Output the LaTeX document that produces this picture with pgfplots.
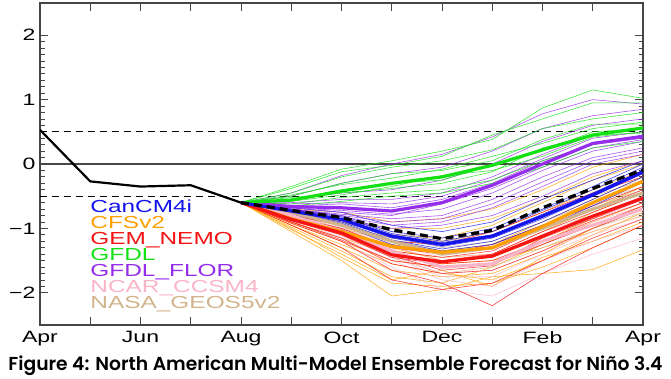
\documentclass[border=0pt]{standalone}
\usepackage{pgfplots}
\usepackage{pgfplotstable}
\usepackage{graphicx}
\usepackage{fontspec}
\pgfplotsset{compat=1.18}
\setmainfont{Liberation Sans}
\newfontfamily\widefont{Liberation Sans}[FakeStretch=1.4]
\newfontfamily\capfont{Poppins}[UprightFont={* SemiBold}]

\definecolor{cblue}{RGB}{20,20,235}
\definecolor{corange}{RGB}{255,160,0}
\definecolor{cred}{RGB}{245,20,20}
\definecolor{cgreen}{RGB}{20,225,20}
\definecolor{cpurple}{RGB}{150,45,235}
\definecolor{cpink}{RGB}{250,180,200}
\definecolor{ctan}{RGB}{210,180,140}
\definecolor{axgray}{RGB}{70,70,70}

% observed
\pgfplotstableread{
x y
0 0.53
1 -0.27
2 -0.35
3 -0.33
4 -0.60
}\obs

% model means and ensemble mean
\pgfplotstableread{
x gfdl flor can cfs gem ncar nasa ens
4 -0.60 -0.60 -0.60 -0.60 -0.60 -0.60 -0.60 -0.60
5 -0.56 -0.66 -0.73 -0.85 -0.86 -0.80 -0.75 -0.72
6 -0.42 -0.68 -0.86 -1.05 -1.07 -1.05 -0.95 -0.83
7 -0.30 -0.73 -1.12 -1.28 -1.41 -1.35 -1.20 -1.02
8 -0.20 -0.60 -1.25 -1.37 -1.52 -1.60 -1.40 -1.16
9 -0.02 -0.33 -1.12 -1.30 -1.43 -1.55 -1.30 -1.03
10 0.22 0.00 -0.81 -0.97 -1.12 -1.20 -1.00 -0.68
11 0.45 0.32 -0.48 -0.60 -0.81 -0.95 -0.70 -0.38
12 0.56 0.43 -0.12 -0.27 -0.53 -0.70 -0.45 -0.09
}\means

% members: one row per member, columns Aug..Apr
\pgfplotstableread{
id a4 a5 a6 a7 a8 a9 a10 a11 a12
g1 -0.6 -0.35 -0.08 0.05 0.20 0.38 0.87 1.15 1.02
g2 -0.6 -0.38 -0.12 -0.02 0.12 0.45 0.70 0.95 0.95
g3 -0.6 -0.45 -0.20 -0.05 0.05 0.22 0.55 0.70 0.80
g4 -0.6 -0.50 -0.30 -0.15 -0.10 0.05 0.38 0.62 0.62
g5 -0.6 -0.55 -0.40 -0.30 -0.25 -0.02 0.20 0.50 0.55
g6 -0.6 -0.62 -0.52 -0.45 -0.40 -0.25 0.05 0.30 0.45
g7 -0.6 -0.58 -0.48 -0.35 -0.18 -0.10 0.12 0.42 0.50
g8 -0.6 -0.52 -0.45 -0.38 -0.30 -0.12 0.25 0.45 0.48
g9 -0.6 -0.65 -0.58 -0.50 -0.45 -0.30 -0.05 0.25 0.35
g10 -0.6 -0.48 -0.32 -0.22 -0.08 0.12 0.32 0.55 0.65
}\rawG
\pgfplotstabletranspose[colnames from=id]{\tabG}{\rawG}

\pgfplotstableread{
id a4 a5 a6 a7 a8 a9 a10 a11 a12
p1 -0.6 -0.45 -0.18 0.00 0.15 0.42 0.78 1.00 0.93
p2 -0.6 -0.50 -0.30 -0.15 -0.05 0.20 0.55 0.75 0.85
p3 -0.6 -0.55 -0.45 -0.40 -0.25 0.00 0.35 0.60 0.70
p4 -0.6 -0.60 -0.55 -0.55 -0.45 -0.20 0.15 0.45 0.55
p5 -0.6 -0.65 -0.62 -0.68 -0.55 -0.30 0.05 0.30 0.40
p6 -0.6 -0.68 -0.72 -0.78 -0.70 -0.45 -0.10 0.20 0.35
p7 -0.6 -0.70 -0.78 -0.85 -0.80 -0.55 -0.20 0.10 0.25
p8 -0.6 -0.72 -0.82 -0.95 -0.90 -0.68 -0.35 0.00 0.15
p9 -0.6 -0.75 -0.88 -1.00 -0.95 -0.80 -0.50 -0.15 0.05
p10 -0.6 -0.68 -0.75 -0.80 -0.62 -0.38 -0.05 0.25 0.38
p11 -0.6 -0.62 -0.60 -0.62 -0.50 -0.25 0.08 0.40 0.50
p12 -0.6 -0.70 -0.80 -0.90 -0.85 -0.62 -0.28 0.05 0.20
}\rawP
\pgfplotstabletranspose[colnames from=id]{\tabP}{\rawP}

\pgfplotstableread{
id a4 a5 a6 a7 a8 a9 a10 a11 a12
b1 -0.6 -0.68 -0.75 -0.95 -1.05 -0.90 -0.55 -0.25 0.05
b2 -0.6 -0.70 -0.80 -1.05 -1.15 -1.00 -0.70 -0.35 0.00
b3 -0.6 -0.75 -0.90 -1.18 -1.32 -1.20 -0.90 -0.55 -0.20
b4 -0.6 -0.78 -0.95 -1.25 -1.40 -1.30 -1.00 -0.65 -0.28
b5 -0.6 -0.72 -0.85 -1.10 -1.22 -1.10 -0.78 -0.45 -0.10
b6 -0.6 -0.76 -0.92 -1.20 -1.35 -1.25 -0.95 -0.62 -0.25
b7 -0.6 -0.70 -0.82 -1.08 -1.20 -1.05 -0.72 -0.40 -0.05
b8 -0.6 -0.74 -0.88 -1.15 -1.28 -1.15 -0.85 -0.50 -0.15
}\rawB
\pgfplotstabletranspose[colnames from=id]{\tabB}{\rawB}

\pgfplotstableread{
id a4 a5 a6 a7 a8 a9 a10 a11 a12
o1 -0.6 -0.70 -0.75 -0.90 -0.85 -0.70 -0.40 -0.05 0.15
o2 -0.6 -0.75 -0.85 -1.00 -1.00 -0.85 -0.55 -0.20 0.05
o3 -0.6 -0.80 -0.95 -1.15 -1.20 -1.05 -0.75 -0.40 -0.10
o4 -0.6 -0.85 -1.05 -1.25 -1.35 -1.25 -0.90 -0.55 -0.20
o5 -0.6 -0.88 -1.10 -1.35 -1.45 -1.40 -1.05 -0.70 -0.35
o6 -0.6 -0.92 -1.20 -1.50 -1.60 -1.55 -1.20 -0.85 -0.50
o7 -0.6 -0.95 -1.30 -1.65 -1.75 -1.70 -1.40 -1.00 -0.65
o8 -0.6 -1.00 -1.45 -1.85 -1.90 -1.85 -1.60 -1.30 -0.95
o9 -0.6 -1.05 -1.50 -2.05 -1.95 -1.75 -1.70 -1.64 -1.33
o10 -0.6 -0.90 -1.15 -1.40 -1.55 -1.50 -1.30 -1.05 -0.80
o11 -0.6 -0.82 -1.00 -1.20 -1.25 -1.10 -0.80 -0.45 -0.15
o12 -0.6 -0.95 -1.25 -1.55 -1.70 -1.80 -1.50 -1.10 -0.75
o13 -0.6 -0.78 -0.90 -1.10 -1.15 -0.95 -0.60 -0.25 0.00
o14 -0.6 -0.98 -1.35 -1.75 -1.85 -1.60 -1.25 -0.90 -0.60
o15 -0.6 -0.86 -1.08 -1.30 -1.50 -1.45 -1.15 -0.75 -0.45
o16 -0.6 -1.02 -1.40 -1.80 -1.65 -1.90 -1.45 -1.20 -0.90
}\rawO
\pgfplotstabletranspose[colnames from=id]{\tabO}{\rawO}

\pgfplotstableread{
id a4 a5 a6 a7 a8 a9 a10 a11 a12
r1 -0.6 -0.80 -0.95 -1.20 -1.25 -1.05 -0.75 -0.45 -0.20
r2 -0.6 -0.82 -1.00 -1.30 -1.40 -1.25 -0.95 -0.65 -0.35
r3 -0.6 -0.88 -1.10 -1.45 -1.55 -1.50 -1.20 -0.88 -0.60
r4 -0.6 -0.90 -1.15 -1.55 -1.70 -1.65 -1.35 -1.00 -0.70
r5 -0.6 -0.92 -1.20 -1.65 -1.85 -2.20 -1.70 -1.30 -0.95
r6 -0.6 -0.85 -1.05 -1.40 -1.50 -1.40 -1.05 -0.75 -0.45
r7 -0.6 -0.95 -1.30 -1.80 -1.95 -1.85 -1.50 -1.15 -0.85
r8 -0.6 -0.84 -1.02 -1.35 -1.45 -1.35 -1.00 -0.70 -0.40
r9 -0.6 -0.90 -1.18 -1.50 -1.60 -1.55 -1.25 -0.95 -0.65
r10 -0.6 -0.86 -1.08 -1.42 -1.65 -1.58 -1.15 -0.85 -0.55
}\rawR
\pgfplotstabletranspose[colnames from=id]{\tabR}{\rawR}

\pgfplotstableread{
id a4 a5 a6 a7 a8 a9 a10 a11 a12
k1 -0.6 -0.75 -0.95 -1.20 -1.40 -1.30 -0.95 -0.70 -0.45
k2 -0.6 -0.78 -1.00 -1.28 -1.50 -1.45 -1.10 -0.85 -0.60
k3 -0.6 -0.82 -1.10 -1.42 -1.70 -1.65 -1.35 -1.05 -0.80
k4 -0.6 -0.85 -1.15 -1.50 -1.80 -1.90 -1.50 -1.20 -0.95
k5 -0.6 -0.80 -1.02 -1.32 -1.62 -1.55 -1.20 -0.90 -0.65
k6 -0.6 -0.88 -1.20 -1.60 -1.95 -2.05 -1.70 -1.40 -1.15
k7 -0.6 -0.76 -0.98 -1.25 -1.45 -1.40 -1.05 -0.80 -0.50
k8 -0.6 -0.84 -1.12 -1.45 -1.75 -1.75 -1.40 -1.10 -0.85
}\rawK
\pgfplotstabletranspose[colnames from=id]{\tabK}{\rawK}

\pgfplotstableread{
id a4 a5 a6 a7 a8 a9 a10 a11 a12
t1 -0.6 -0.70 -0.85 -1.05 -1.20 -1.10 -0.80 -0.50 -0.25
t2 -0.6 -0.72 -0.90 -1.12 -1.30 -1.20 -0.90 -0.60 -0.35
t3 -0.6 -0.78 -1.00 -1.28 -1.50 -1.42 -1.10 -0.80 -0.55
t4 -0.6 -0.80 -1.05 -1.35 -1.60 -1.55 -1.25 -0.95 -0.70
t5 -0.6 -0.74 -0.92 -1.18 -1.35 -1.25 -0.95 -0.65 -0.40
t6 -0.6 -0.82 -1.10 -1.45 -1.70 -1.60 -1.30 -1.00 -0.75
}\rawT
\pgfplotstabletranspose[colnames from=id]{\tabT}{\rawT}

\begin{document}
\begin{tikzpicture}[x=1bp,y=1bp]
\useasboundingbox (0,0) rectangle (671,378);
\begin{axis}[
  at={(40bp,53bp)}, anchor=south west,
  scale only axis, width=603bp, height=322bp,
  xmin=0, xmax=12, ymin=-2.5, ymax=2.5,
  xtick={0,...,12},
  xticklabels={Apr,,Jun,,Aug,,Oct,,Dec,,Feb,,Apr},
  ytick={-2,-1,0,1,2},
  yticklabels={−2,−1,0,1,2},
  minor y tick num=9,
  tick align=inside,
  xtick pos=both, ytick pos=both,
  major tick length=8bp, minor tick length=4.5bp,
  axis line style={axgray, line width=1.1pt},
  every tick/.style={axgray, line width=1pt},
  every minor tick/.style={axgray, line width=0.8pt},
  tick label style={font=\widefont\fontsize{16.5}{18}\selectfont},
  xticklabel style={yshift=-3bp},
  yticklabel style={xshift=-1bp},
  clip=true,
  thin/.style={line width=0.6pt, opacity=0.8},
  thick mean/.style={line width=3.2pt},
]
% reference lines
\addplot[axgray, line width=1.3pt] coordinates {(0,0) (12,0)};
\addplot[black, line width=1pt, dash pattern=on 7bp off 5bp] coordinates {(0,0.5) (12,0.5)};
\addplot[black, line width=1pt, dash pattern=on 7bp off 5bp] coordinates {(0,-0.5) (12,-0.5)};

% thin members
\pgfplotsinvokeforeach{1,...,16}{\addplot[corange, thin] table[x expr=\coordindex+4, y index=#1] {\tabO};}
\pgfplotsinvokeforeach{1,...,6}{\addplot[ctan, thin] table[x expr=\coordindex+4, y index=#1] {\tabT};}
\pgfplotsinvokeforeach{1,...,8}{\addplot[cpink, thin] table[x expr=\coordindex+4, y index=#1] {\tabK};}
\pgfplotsinvokeforeach{1,...,10}{\addplot[cred, thin] table[x expr=\coordindex+4, y index=#1] {\tabR};}
\pgfplotsinvokeforeach{1,...,8}{\addplot[cblue, thin] table[x expr=\coordindex+4, y index=#1] {\tabB};}
\pgfplotsinvokeforeach{1,...,12}{\addplot[cpurple, thin] table[x expr=\coordindex+4, y index=#1] {\tabP};}
\pgfplotsinvokeforeach{1,...,10}{\addplot[cgreen, thin] table[x expr=\coordindex+4, y index=#1] {\tabG};}

% thick means
\addplot[ctan, thick mean] table[x=x, y=nasa] {\means};
\addplot[cpink, thick mean] table[x=x, y=ncar] {\means};
\addplot[corange, thick mean] table[x=x, y=cfs] {\means};
\addplot[cred, thick mean] table[x=x, y=gem] {\means};
\addplot[cpurple, thick mean] table[x=x, y=flor] {\means};
\addplot[cgreen, thick mean] table[x=x, y=gfdl] {\means};
\addplot[cblue, thick mean] table[x=x, y=can] {\means};
\addplot[black, line width=3.2pt, dash pattern=on 8bp off 5bp] table[x=x, y=ens] {\means};

% observed
\addplot[black, line width=2.2pt] table[x=x, y=y] {\obs};

% legend labels
\begin{scope}[every node/.style={anchor=base west, inner sep=0pt, font=\widefont\fontsize{17.5}{18}\selectfont}]
\node[text=cblue]   at (axis cs:1,-0.760) {CanCM4i};
\node[text=corange] at (axis cs:1,-1.008) {CFSv2};
\node[text=cred]    at (axis cs:1,-1.256) {GEM\_NEMO};
\node[text=cgreen]  at (axis cs:1,-1.504) {GFDL};
\node[text=cpurple] at (axis cs:1,-1.752) {GFDL\_FLOR};
\node[text=cpink]   at (axis cs:1,-2.000) {NCAR\_CCSM4};
\node[text=ctan]    at (axis cs:1,-2.248) {NASA\_GEOS5v2};
\end{scope}
\end{axis}
\node at (335.5,12) {\resizebox{654bp}{!}{\capfont Figure 4: North American Multi-Model Ensemble Forecast for Niño 3.4}};
\end{tikzpicture}
\end{document}
